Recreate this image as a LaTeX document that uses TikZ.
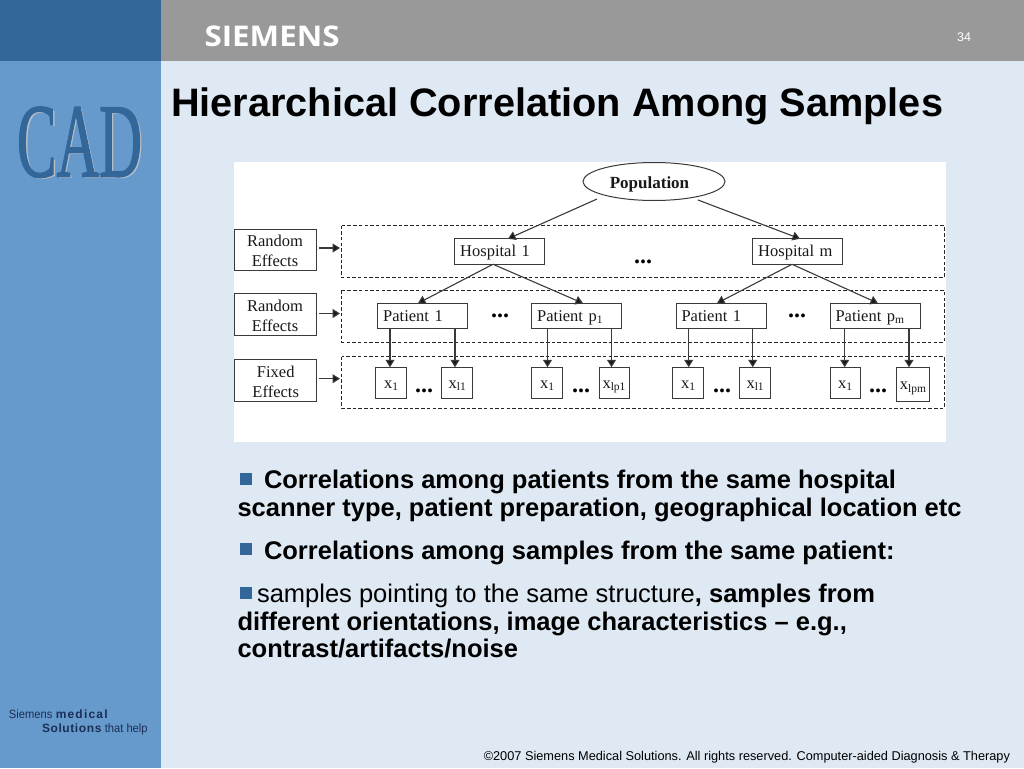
\documentclass[tikz,border=0pt]{standalone}
\usepackage{fontspec}
\usetikzlibrary{arrows.meta,shapes.geometric}
\setmainfont{Liberation Sans}
\newfontfamily\serifdiag{Liberation Serif}
\newfontfamily\logofont{Open Sans}
\definecolor{pagebg}{HTML}{DFE9F3}
\definecolor{sidebar}{HTML}{6699CC}
\definecolor{topblue}{HTML}{336699}
\definecolor{topgrey}{HTML}{999999}
\definecolor{cadgrey}{HTML}{B8BEC6}
\definecolor{navy}{HTML}{1B2F55}
\definecolor{linegrey}{HTML}{3A3A3A}
\newcommand{\px}[1]{\fontsize{#1}{#1}\selectfont}
\newcommand{\sidefont}{\fontsize{16.5}{20}\selectfont}
\newcommand{\lowsub}[1]{\raisebox{-2.5pt}{\px{11.5}#1}}
\newcommand{\toprule}{\rule{0pt}{14.5pt}}
\tikzset{
  x=1pt,y=-1pt,
  every node/.style={inner sep=0pt,outer sep=0pt},
  diagbox/.style={draw=linegrey,line width=1pt,fill=white,font=\serifdiag\px{16.5},text=black!90,text height=12.5pt,text depth=2pt},
  levelbox/.style={diagbox,minimum height=25.5pt,minimum width=90pt,text width=79pt,align=left},
  sidebox/.style={draw=linegrey,line width=1pt,fill=white,text=black!90,align=center,font=\serifdiag\sidefont},
  leafbox/.style={diagbox,minimum height=31.5pt},
  band/.style={draw=black!85,line width=0.9pt,dash pattern=on 3.5pt off 2.2pt},
  arr/.style={draw=linegrey,line width=1.1pt,-{Triangle[length=7.5pt,width=9pt,fill=black!90]}},
  dots/.style={font=\serifdiag\bfseries\px{24},text=black},
  body/.style={anchor=base west,font=\bfseries\px{25.5},text=black},
  bullet/.style={fill=topblue,minimum size=11.5pt},
}
\begin{document}
\begin{tikzpicture}
\useasboundingbox (0,0) rectangle (1024,768);
\fill[pagebg] (0,0) rectangle (1024,768);
\fill[sidebar] (0,61) rectangle (161,768);
\fill[topblue] (0,0) rectangle (161,61);
\fill[topgrey] (161,0) rectangle (1024,61);
\node[anchor=base west,font=\logofont\bfseries\px{28.5},text=white] (brand) at (204.5,46) {\scalebox{1.1}[1]{SIEMENS}};
\node[font=\px{12.5},text=white] (num) at (964,37.5) {34};
\node[anchor=base west,font=\bfseries\px{39.7},text=black] (title) at (171,116) {Hierarchical Correlation Among Samples};
% CAD mark
\node[anchor=base,text=cadgrey,font=\serifdiag] (cadb) at (81.5,178.5) {\scalebox{0.8}[1.42]{\px{74}CAD}};
\node[anchor=base,text=topblue,font=\serifdiag] (cada) at (79.5,176.5) {\scalebox{0.8}[1.42]{\special{pdf:literal direct 2 Tr 1.2 w 0.2 0.4 0.6 RG}\px{74}CAD\special{pdf:literal direct 0 Tr}}};
% footer logo
\node[anchor=base west,font=\px{12},text=navy] (logoa) at (9,718) {\scalebox{0.93}[1]{Siemens} {\addfontfeature{LetterSpace=10}\bfseries medical}};
\node[anchor=base west,font=\px{12},text=navy] (logob) at (42,732) {{\addfontfeature{LetterSpace=5}\bfseries Solutions} \scalebox{0.93}[1]{that help}};
\node[anchor=base east,font=\px{12.75},text=black] (foot) at (1010,760) {©2007 Siemens Medical Solutions. All rights reserved. Computer-aided Diagnosis \& Therapy};
% diagram panel
\fill[white] (234,162) rectangle (946,442);
\draw[band] (341.5,225.5) rectangle (944,277.5);
\draw[band] (341.5,290) rectangle (944,342);
\draw[band] (341.5,356.5) rectangle (944,408);
\coordinate (bandA) at (340,248);
\coordinate (bandB) at (340,313.5);
\coordinate (bandC) at (340,378.7);
\node[sidebox,minimum width=82pt,minimum height=41pt] (s1) at (275,249.5) {\toprule Random\\Effects};
\node[sidebox,minimum width=82pt,minimum height=41.5pt] (s2) at (275,314.3) {\toprule Random\\Effects};
\node[sidebox,minimum width=82.5pt,minimum height=42pt] (s3) at (275.7,380) {\toprule Fixed\\Effects};
\draw[arr,shorten <=3pt] (s1.east|-bandA) -- (bandA);
\draw[arr,shorten <=3pt] (s2.east|-bandB) -- (bandB);
\draw[arr,shorten <=2.5pt] (s3.east|-bandC) -- (bandC);
\node[ellipse,draw=linegrey,line width=1pt,fill=white,minimum width=142pt,minimum height=38pt] (pop) at (654,181.5) {};
\node[font=\serifdiag\bfseries\px{17},text=black!90] (poptext) at (649.5,184.5) {Population};
\node[levelbox] (h1) at (499.7,251.5) {Hospital 1};
\node[levelbox] (hm) at (797.7,251.5) {Hospital m};
\node[levelbox] (p1) at (422.7,316) {Patient 1};
\node[levelbox] (pp) at (576.7,316) {Patient p\lowsub{1}};
\node[levelbox] (p2) at (721,316) {Patient 1};
\node[levelbox] (pq) at (875,316) {Patient p\lowsub{m}};
\node[leafbox,minimum width=31pt] (x1) at (391,383) {x\lowsub{1}};
\node[leafbox,minimum width=31pt] (x2) at (457.3,383) {x\lowsub{l1}};
\node[leafbox,minimum width=31pt] (x3) at (547.2,383) {x\lowsub{1}};
\node[leafbox,minimum width=30pt] (x4) at (614,383) {x\lowsub{lp1}};
\node[leafbox,minimum width=31pt] (x5) at (688.2,383) {x\lowsub{1}};
\node[leafbox,minimum width=30.5pt] (x6) at (755.1,383) {x\lowsub{l1}};
\node[leafbox,minimum width=30pt] (x7) at (845,383) {x\lowsub{1}};
\node[diagbox,minimum width=32.5pt,minimum height=34pt] (x8) at (913,384.3) {x\lowsub{lpm}};
\coordinate (popL) at (597,199);
\coordinate (popR) at (698,200);
\draw[arr] (popL) -- (508,0 |- h1.north);
\draw[arr] (popR) -- (800,0 |- hm.north);
\draw[arr] (493,0 |- h1.south) -- (418,0 |- p1.north);
\draw[arr] (493,0 |- h1.south) -- (583,0 |- pp.north);
\draw[arr] (792,0 |- hm.south) -- (717,0 |- p2.north);
\draw[arr] (792,0 |- hm.south) -- (878,0 |- pq.north);
\draw[arr] (390,0 |- p1.south) -- (390,0 |- x1.north);
\draw[arr] (455,0 |- p1.south) -- (455,0 |- x2.north);
\draw[arr] (547.5,0 |- pp.south) -- (547.5,0 |- x3.north);
\draw[arr] (611.5,0 |- pp.south) -- (611.5,0 |- x4.north);
\draw[arr] (688.7,0 |- p2.south) -- (688.7,0 |- x5.north);
\draw[arr] (752.7,0 |- p2.south) -- (752.7,0 |- x6.north);
\draw[arr] (844.7,0 |- pq.south) -- (844.7,0 |- x7.north);
\draw[arr] (909,0 |- pq.south) -- (909,0 |- x8.north);
\node[dots,anchor=base] (d1) at (643,263.5) {...};
\node[dots,anchor=base] (d2) at (500,317.5) {...};
\node[dots,anchor=base] (d3) at (797,317.5) {...};
\node[dots,anchor=base] (d4) at (424,392.5) {...};
\node[dots,anchor=base] (d5) at (581,392.5) {...};
\node[dots,anchor=base] (d6) at (722,392.5) {...};
\node[dots,anchor=base] (d7) at (878,392.5) {...};
% body text
\node[bullet] (b1) at (246,479) {};
\node[body] (t1) at (264,488) {Correlations among patients from the same hospital};
\node[body] (t2) at (237.5,516) {scanner type, patient preparation, geographical location etc};
\node[bullet] (b2) at (246,549) {};
\node[body] (t3) at (264,559) {Correlations among samples from the same patient:};
\node[bullet] (b3) at (246,593) {};
\node[body] (t4) at (257,602) {\mdseries samples pointing to the same structure\bfseries, samples from};
\node[body] (t5) at (237.5,630) {different orientations, image characteristics – e.g.,};
\node[body] (t6) at (237.5,657) {contrast/artifacts/noise};
\end{tikzpicture}
\end{document}
